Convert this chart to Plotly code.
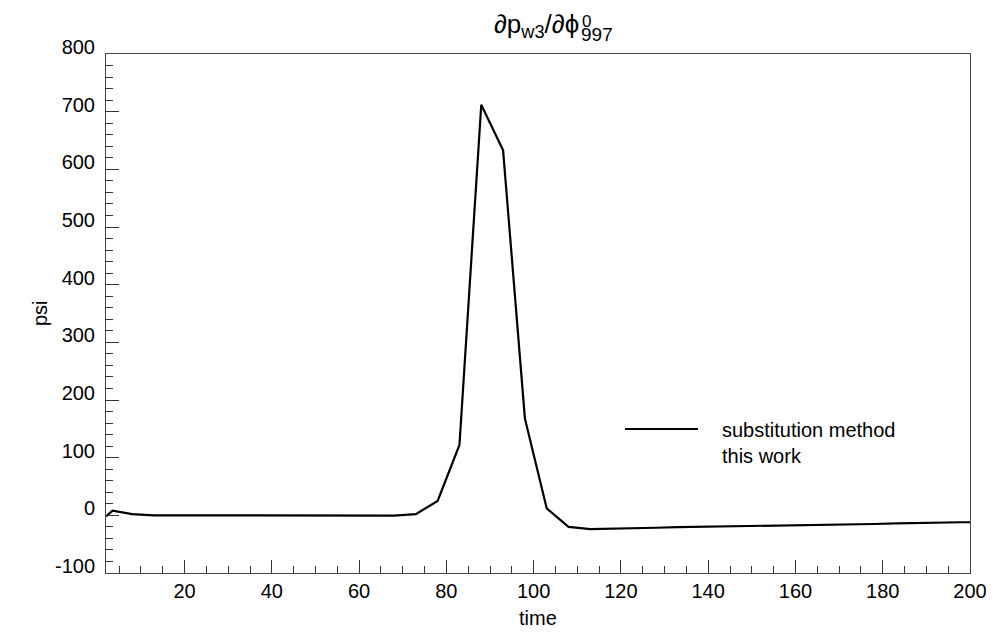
import plotly.graph_objects as go

time = [2, 3.5, 8, 13, 18, 23, 28, 33, 38, 43, 48, 53, 58, 63, 68, 73, 78, 83, 88, 93,
        98, 103, 108, 113, 118, 123, 128, 133, 138, 143, 148, 153, 158, 163, 168, 173,
        178, 183, 188, 193, 198, 200]
psi = [-2, 8, 2, 0, 0, 0, -0.5, 0, -0.5, -0.5, 0, -0.5, -0.5, 0, -0.5, 2, 25, 122, 712, 633,
       168, 12, -20, -24, -23.5, -22.5, -21.5, -20.5, -20, -19, -18.5, -18, -17.5, -17, -16.5,
       -15.5, -15, -14, -13, -12.5, -12, -12]

x_ticks = [20, 40, 60, 80, 100, 120, 140, 160, 180, 200]
y_ticks = [-100, 0, 100, 200, 300, 400, 500, 600, 700, 800]
y_ticklabels = ["-100", "0", "100", "200", "300", "400", "500", "600", "700", "800"]

legend_text = "substitution method<br>this work"
title_main = "∂p<sub>w3</sub>/∂ϕ"
title_sub = "997"
title_sup = "0"
x_title = "time"
y_title = "psi"

FONT = "Liberation Sans, Arial, sans-serif"

# the page body adds an 8px offset; the figure is sized to fit the window exactly
OFF = 8
W, H = 994 - OFF, 632 - OFF
L, R, T, B = 106 - OFF, 24, 54 - OFF, 59
PW, PH = W - L - R, H - T - B


def px_x(px):
    return (px - OFF - L) / PW


def px_y(py):
    return (H - B - (py - OFF)) / PH


fig = go.Figure()
fig.add_trace(go.Scatter(x=time, y=psi, mode="lines",
                         line=dict(color="black", width=2.2), showlegend=False))

axis_common = dict(
    showgrid=False, zeroline=False, showline=True, linecolor="#444", linewidth=1,
    mirror=True, ticks="inside", ticklen=13, tickcolor="#333", tickwidth=1,
    tickfont=dict(family=FONT, size=20, color="black"), automargin=False,
)

fig.update_xaxes(range=[2, 200], tickvals=x_ticks,
                 minor=dict(dtick=5, tick0=0, ticklen=7, ticks="inside", tickcolor="#333"),
                 **axis_common)
fig.update_yaxes(range=[-100, 800], tickvals=y_ticks, ticktext=y_ticklabels,
                 minor=dict(dtick=20, tick0=0, ticklen=7, ticks="inside", tickcolor="#333"),
                 ticklabelshift=-7, ticklabelstandoff=6,
                 **axis_common)

fig.add_shape(type="line", xref="paper", yref="paper",
              x0=px_x(625), x1=px_x(698), y0=px_y(429), y1=px_y(429),
              line=dict(color="black", width=2.2))
fig.add_annotation(xref="paper", yref="paper", x=px_x(720), y=px_y(417), xanchor="left", yanchor="top",
                   text=legend_text, showarrow=False, align="left",
                   font=dict(family=FONT, size=20, color="black"))

# axis titles
fig.add_annotation(xref="paper", yref="paper", x=px_x(538), y=px_y(618), xanchor="center",
                   yanchor="middle", text=x_title, showarrow=False,
                   font=dict(family=FONT, size=20, color="black"))
fig.add_annotation(xref="paper", yref="paper", x=px_x(40), y=px_y(313), xanchor="center",
                   yanchor="middle", text=y_title, showarrow=False, textangle=-90,
                   font=dict(family=FONT, size=20, color="black"))

# title pieces
fig.add_annotation(xref="paper", yref="paper", x=px_x(580), y=px_y(26), xanchor="right",
                   yanchor="middle", text=title_main, showarrow=False, borderpad=0,
                   font=dict(family=FONT, size=26, color="black"))
fig.add_annotation(xref="paper", yref="paper", x=px_x(580), y=px_y(34), xanchor="left",
                   yanchor="middle", text=title_sub, showarrow=False, borderpad=0,
                   font=dict(family=FONT, size=19, color="black"))
fig.add_annotation(xref="paper", yref="paper", x=px_x(581), y=px_y(21), xanchor="left",
                   yanchor="middle", text=title_sup, showarrow=False, borderpad=0,
                   font=dict(family=FONT, size=17, color="black"))

fig.update_layout(
    width=W, height=H,
    margin=dict(l=L, r=R, t=T, b=B),
    paper_bgcolor="white", plot_bgcolor="white",
)

fig.write_html("out.html")
